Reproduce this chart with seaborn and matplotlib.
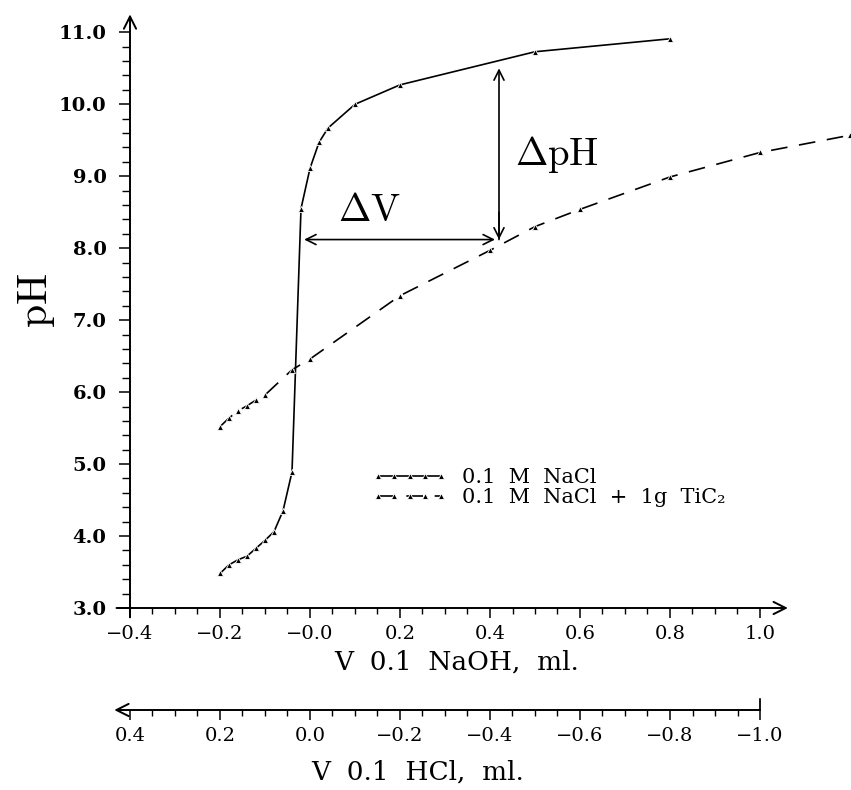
import numpy as np
import pandas as pd
import matplotlib
matplotlib.use("Agg")
import matplotlib.pyplot as plt
import seaborn as sns
from matplotlib.ticker import FixedLocator

# ---- data ----
nacl_v = [-0.20, -0.18, -0.16, -0.14, -0.12, -0.10, -0.08, -0.06, -0.04,
          -0.02, 0.00, 0.02, 0.04, 0.10, 0.20, 0.50, 0.80]
nacl_ph = [3.48, 3.60, 3.67, 3.72, 3.83, 3.94, 4.06, 4.35, 4.89,
           8.55, 9.11, 9.47, 9.67, 10.00, 10.27, 10.73, 10.91]
tio_v = [-0.20, -0.18, -0.16, -0.14, -0.12, -0.10, -0.04, 0.00,
         0.20, 0.40, 0.50, 0.60, 0.80, 1.00, 1.20]
tio_ph = [5.52, 5.64, 5.74, 5.81, 5.89, 5.96, 6.31, 6.46,
          7.34, 7.97, 8.30, 8.54, 8.99, 9.33, 9.57]

naoh_ticks = [-0.4, -0.2, 0.0, 0.2, 0.4, 0.6, 0.8, 1.0]
naoh_labels = ["\u22120.4", "\u22120.2", "\u22120.0", "0.2", "0.4", "0.6", "0.8", "1.0"]
hcl_ticks = [0.4, 0.2, 0.0, -0.2, -0.4, -0.6, -0.8, -1.0]
hcl_labels = ["0.4", "0.2", "0.0", "\u22120.2", "\u22120.4", "\u22120.6", "\u22120.8", "\u22121.0"]
ph_ticks = [3.0, 4.0, 5.0, 6.0, 7.0, 8.0, 9.0, 10.0, 11.0]
ph_labels = ["3.0", "4.0", "5.0", "6.0", "7.0", "8.0", "9.0", "10.0", "11.0"]

label_nacl = "0.1  M  NaCl"
label_tio = "0.1  M  NaCl  +  1g  TiC\u2082"

sns.set_style("white")
plt.rcParams["font.family"] = ["DejaVu Serif", "DejaVu Sans"]
plt.rcParams["mathtext.fontset"] = "cm"
for k in ["text.color", "axes.labelcolor", "xtick.color", "ytick.color"]:
    plt.rcParams[k] = "black"

W, H = 851, 790
fig = plt.figure(figsize=(W / 100, H / 100), dpi=100)

# main axes: x=-0.4 at px 130, 450 px per unit; y=3.0 at px 608, 71.96 px per unit
ytop = 11.3
axh = (ytop - 3.0) * 71.96
ax = fig.add_axes([130 / W, (H - 608) / H, 720 / W, axh / H])
ax.set_xlim(-0.4, 1.2)
ax.set_ylim(3.0, ytop)
for s in ax.spines.values():
    s.set_visible(False)

df1 = pd.DataFrame({"v": nacl_v, "ph": nacl_ph})
df2 = pd.DataFrame({"v": tio_v, "ph": tio_ph})

sns.lineplot(data=df1, x="v", y="ph", ax=ax, color="black", linewidth=1.2,
             marker="^", markersize=4, markeredgewidth=0.6, sort=False,
             label=label_nacl, clip_on=False)
sns.lineplot(data=df2, x="v", y="ph", ax=ax, color="black", linewidth=1.2,
             linestyle=(0, (10, 7)), marker="^", markersize=4,
             markeredgewidth=0.6, sort=False, label=label_tio, clip_on=False)

# axis lines with arrows
ax.annotate("", xy=(1.062, 3.0), xytext=(-0.43, 3.0),
            arrowprops=dict(arrowstyle="->", lw=1.4, color="black",
                            shrinkA=0, shrinkB=0, mutation_scale=22),
            annotation_clip=False)
ax.annotate("", xy=(-0.4, 11.25), xytext=(-0.4, 2.87),
            arrowprops=dict(arrowstyle="->", lw=1.4, color="black",
                            shrinkA=0, shrinkB=0, mutation_scale=22),
            annotation_clip=False)

# ticks
ax.xaxis.set_major_locator(FixedLocator(naoh_ticks))
ax.set_xticklabels(naoh_labels)
ax.xaxis.set_minor_locator(FixedLocator(list(np.arange(-0.4, 1.001, 0.05))))
ax.yaxis.set_major_locator(FixedLocator(ph_ticks))
ax.set_yticklabels(ph_labels, fontweight="bold")
ax.yaxis.set_minor_locator(FixedLocator(list(np.arange(3.0, 11.001, 0.2))))
ax.tick_params(axis="x", which="major", bottom=True, direction="out",
               length=7, width=1.1, pad=5, labelsize=14)
ax.tick_params(axis="x", which="minor", bottom=True, direction="out",
               length=4.5, width=1.0)
ax.tick_params(axis="y", which="major", left=True, direction="out",
               length=8, width=1.1, pad=9, labelsize=14)
ax.tick_params(axis="y", which="minor", left=True, direction="out",
               length=5.5, width=1.0)

# axis labels
ax.set_xlabel("V  0.1  NaOH,  ml.", fontsize=19, va="center")
ax.xaxis.set_label_coords((457 - 130) / 720, (608 - 662) / axh)
ax.set_ylabel(r"$\mathrm{pH}$", fontsize=30, va="center", rotation=90)
ax.yaxis.set_label_coords((36 - 130) / 720, (608 - 300) / axh)

# delta annotations
ax.annotate("", xy=(-0.013, 8.12), xytext=(0.411, 8.12),
            arrowprops=dict(arrowstyle="<->", lw=1.2, color="black",
                            shrinkA=0, shrinkB=0, mutation_scale=18))
ax.annotate("", xy=(0.42, 10.50), xytext=(0.42, 8.12),
            arrowprops=dict(arrowstyle="->", lw=1.2, color="black",
                            shrinkA=0, shrinkB=0, mutation_scale=18))
ax.annotate("", xy=(0.42, 8.12), xytext=(0.42, 8.5),
            arrowprops=dict(arrowstyle="->", lw=1.2, color="black",
                            shrinkA=0, shrinkB=0, mutation_scale=18))
ax.text(0.133, 8.53, r"$\Delta\mathrm{V}$", fontsize=28, ha="center", va="center",
        color="black")
ax.text(0.456, 9.30, r"$\Delta\mathrm{pH}$", fontsize=28, ha="left", va="center",
        color="black")

# legend
leg = ax.legend(loc="upper left", bbox_to_anchor=((372 - 130) / 720, (608 - 468) / axh),
                frameon=False, fontsize=15, handlelength=3.6, handletextpad=0.7,
                labelspacing=0.05, borderaxespad=0, borderpad=0, numpoints=5)
for t in leg.get_texts():
    t.set_color("black")

# lower (HCl) axis: the same positions, negated values
ax2 = fig.add_axes([130 / W, (H - 710) / H, 720 / W, 20 / H])
ax2.set_xlim(0.4, -1.2)
ax2.set_ylim(0, 1)
ax2.patch.set_alpha(0)
for s in ax2.spines.values():
    s.set_visible(False)
ax2.set_yticks([])
ax2.annotate("", xy=(0.435, 0), xytext=(-1.0, 0),
             arrowprops=dict(arrowstyle="->", lw=1.4, color="black",
                             shrinkA=0, shrinkB=0, mutation_scale=22),
             annotation_clip=False)
ax2.annotate("", xy=(-1.0, 0), xytext=(0, 8), textcoords="offset points",
             arrowprops=dict(arrowstyle="-", lw=1.3, color="black",
                             shrinkA=0, shrinkB=0),
             annotation_clip=False)
ax2.xaxis.set_major_locator(FixedLocator(hcl_ticks))
ax2.set_xticklabels(hcl_labels)
ax2.xaxis.set_minor_locator(FixedLocator(list(np.arange(-1.0, 0.401, 0.05))))
ax2.tick_params(axis="x", which="major", bottom=True, direction="out",
                length=7, width=1.1, pad=5, labelsize=14)
ax2.tick_params(axis="x", which="minor", bottom=True, direction="out",
                length=4.5, width=1.0)
ax2.set_xlabel("V  0.1  HCl,  ml.", fontsize=19, va="center")
ax2.xaxis.set_label_coords((418 - 130) / 720, (710 - 772) / 20)

fig.savefig("out.png", dpi=100)
